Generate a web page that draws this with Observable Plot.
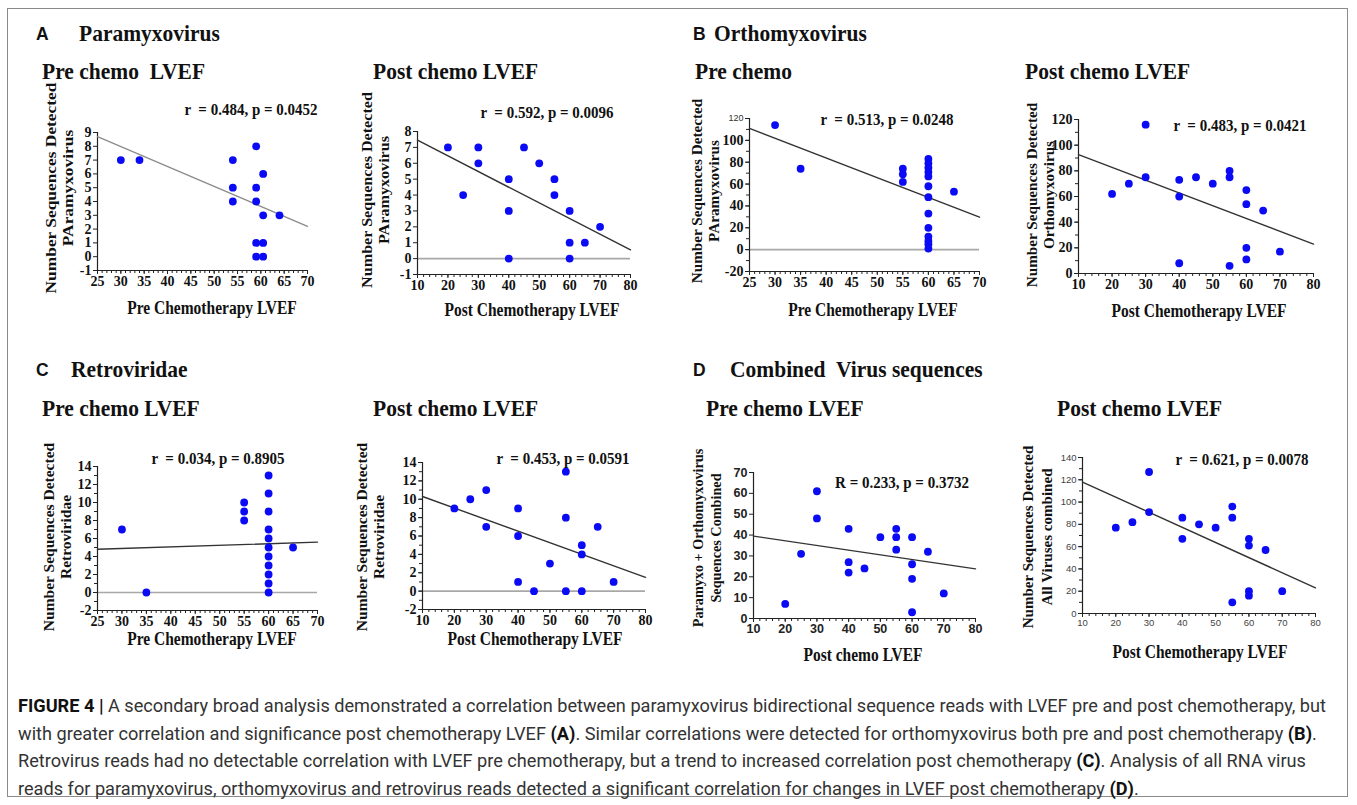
<!DOCTYPE html>
<html><head><meta charset="utf-8">
<script src="https://cdn.jsdelivr.net/npm/d3@7"></script>
<script src="https://cdn.jsdelivr.net/npm/@observablehq/plot@0.6"></script>
<style>
html,body{margin:0;padding:0;background:#fff}
body{width:1357px;height:805px;position:relative;overflow:hidden}
#box{position:absolute;left:7px;top:8px;width:1341px;height:789px;border:1px solid #8a8a8a;box-sizing:border-box}
.t{position:absolute;white-space:pre;color:#111;line-height:1}
.serif{font-family:"Liberation Serif","Times New Roman",serif;font-weight:bold}
.sans{font-family:"Liberation Sans",Arial,sans-serif;font-weight:bold}
.cap{position:absolute;left:18px;white-space:pre;font-family:Roboto,"Liberation Sans",sans-serif;font-size:16px;color:#333;transform-origin:0 50%}
.cap b{font-weight:bold;color:#111}
svg{position:absolute;overflow:visible}
</style></head><body>
<div id="box"></div>
<script>
// ---------- data ----------
// A: Paramyxovirus
const a1Lvef  = [30, 34, 54, 54, 54, 59, 59, 59, 59, 59, 60.5, 60.5, 60.5, 60.5, 64];
const a1Count = [7, 7, 7, 5, 4, 8, 5, 4, 1, 0, 6, 3, 1, 0, 3];
const a1Fit   = [8.7, 2.2];
const a2Lvef  = [20, 25, 30, 30, 40, 40, 40, 45, 50, 55, 55, 60, 60, 60, 65, 70];
const a2Count = [7, 4, 7, 6, 5, 3, 0, 7, 6, 5, 4, 3, 1, 0, 1, 2];
const a2Fit   = [7.45, 0.55];
// B: Orthomyxovirus
const b1Lvef  = [30, 35, 55, 55, 55, 60, 60, 60, 60, 60, 60, 60, 60, 60, 60, 60, 60, 60, 65];
const b1Count = [114, 74, 74, 69, 62, 83, 79, 75, 71, 67, 58, 48, 33, 20, 12, 8, 5, 1, 53];
const b1Fit   = [111, 29.7];
const b2Lvef  = [20, 25, 30, 30, 40, 40, 40, 45, 50, 55, 55, 55, 60, 60, 60, 60, 65, 70];
const b2Count = [62, 70, 116, 75, 73, 60, 8, 75, 70, 80, 75, 6, 65, 54, 20, 11, 49, 17];
const b2Fit   = [92.7, 22.9];
// C: Retroviridae
const c1Lvef  = [30, 35, 55, 55, 55, 60, 60, 60, 60, 60, 60, 60, 60, 60, 60, 60, 65];
const c1Count = [7, 0, 10, 9, 8, 13, 11, 9, 7, 6, 5, 4, 3, 2, 1, 0, 5];
const c1Fit   = [4.8, 5.6];
const c2Lvef  = [20, 25, 30, 30, 40, 40, 40, 45, 50, 55, 55, 55, 60, 60, 60, 65, 70];
const c2Count = [9, 10, 11, 7, 9, 6, 1, 0, 3, 13, 8, 0, 5, 4, 0, 7, 1];
const c2Fit   = [10.3, 1.5];
// D: Combined virus sequences
const d1Lvef  = [20, 25, 30, 30, 40, 40, 40, 45, 50, 55, 55, 55, 60, 60, 60, 60, 65, 70];
const d1Count = [7, 31, 61, 48, 43, 27, 22, 24, 39, 43, 39, 33, 39, 26, 19, 3, 32, 12];
const d1Fit   = [39.5, 23.8];
const d2Lvef  = [20, 25, 30, 30, 40, 40, 45, 50, 55, 55, 55, 60, 60, 60, 60, 65, 70];
const d2Count = [77, 82, 127, 91, 86, 67, 80, 77, 96, 86, 10, 67, 61, 20, 16, 57, 20];
const d2Fit   = [118, 23];

// tick labels
const xTicksPre  = [25, 30, 35, 40, 45, 50, 55, 60, 65, 70];
const xTicksPost = [10, 20, 30, 40, 50, 60, 70, 80];
const yTicksA1 = [-1, 0, 1, 2, 3, 4, 5, 6, 7, 8, 9];
const yTicksA2 = [-1, 0, 1, 2, 3, 4, 5, 6, 7, 8];
const yTicksB1 = [-20, 0, 20, 40, 60, 80, 100];
const yTicksB1Top = [120];
const yTicksB2 = [0, 20, 40, 60, 80, 100, 120];
const yTicksC  = [-2, 0, 2, 4, 6, 8, 10, 12, 14];
const yTicksD1 = [0, 10, 20, 30, 40, 50, 60, 70];
const yTicksD2 = [0, 20, 40, 60, 80, 100, 120, 140];

// ---------- helpers ----------
const body = document.body;
function txt(s, x, y, cls, opt = {}) {
  const d = document.createElement("div");
  d.className = "t " + cls;
  d.textContent = s;
  d.style.left = x + "px"; d.style.top = y + "px";
  d.style.fontSize = (opt.size || 15.5) + "px";
  const sy = opt.sy || 1.15;
  d.style.transform = (opt.center ? "translate(-50%,-50%)" : "translate(0,-50%)") + ` scale(1,${sy})`;
  if (opt.color) d.style.color = opt.color;
  body.appendChild(d);
  return d;
}
function ytitle(lines, cx, cy, opt = {}) {
  const d = document.createElement("div");
  d.className = "t serif";
  d.style.fontSize = (opt.size || 15.5) + "px";
  d.style.lineHeight = (opt.lh || 17) + "px";
  d.style.textAlign = "center";
  d.innerHTML = lines.join("<br>");
  d.style.left = cx + "px"; d.style.top = cy + "px";
  d.style.transform = `translate(-50%,-50%) rotate(-90deg) scale(${opt.sx || 1},1)`;
  body.appendChild(d);
}
function range(a, b, s) { const r = []; for (let v = a; v <= b + 1e-9; v += s) r.push(+v.toFixed(6)); return r; }

function panel(c) {
  const mL = 45, mR = 15, mT = 15, mB = 35;
  const w = c.x1 - c.x0 + mL + mR, h = c.yb - c.yt + mT + mB;
  const pts = c.xs.map((x, i) => ({x, y: c.ys[i]}));
  const fit = [{x: c.xd[0], y: c.fit[0]}, {x: c.xd[1], y: c.fit[1]}];
  const tf = c.tickFont || {fontFamily: "Liberation Serif", fontWeight: "bold", fontSize: 14, fill: "#111"};
  const marks = [];
  if (c.zero) marks.push(Plot.ruleY([0], {stroke: "#a8a8a8", strokeWidth: 1.6}));
  marks.push(Plot.ruleX([c.xd[0]], {stroke: "#222", strokeWidth: 1.2}));
  marks.push(Plot.ruleY([c.yd[0]], {stroke: "#222", strokeWidth: 1.2}));
  marks.push(Plot.axisX({ticks: c.xMinor, tickSize: 3, tickFormat: () => "", label: null, stroke: "#222"}));
  marks.push(Plot.axisX({ticks: c.xTicks, tickSize: 4, tickPadding: 2, tickFormat: d => String(d), label: null, stroke: "#222", ...tf}));
  if (c.yMinor) marks.push(Plot.axisY({ticks: c.yMinor, tickSize: 3, tickFormat: () => "", label: null, stroke: "#222"}));
  marks.push(Plot.axisY({ticks: c.yTicks, tickSize: 4, tickPadding: 2, tickFormat: d => String(d), label: null, stroke: "#222", ...tf}));
  if (c.yTop) marks.push(Plot.axisY({ticks: c.yTop, tickSize: 4, tickPadding: 2, label: null, stroke: "#222",
      fontFamily: "Liberation Sans", fontWeight: "normal", fontSize: 9, fill: "#333"}));
  marks.push(Plot.line(fit, {x: "x", y: "y", stroke: c.fitColor || "#333", strokeWidth: 1.4}));
  marks.push(Plot.dot(pts, {x: "x", y: "y", r: 3.9, fill: "#0a0af5", stroke: "none"}));
  const svg = Plot.plot({
    width: w, height: h, marginLeft: mL, marginRight: mR, marginTop: mT, marginBottom: mB,
    x: {domain: c.xd}, y: {domain: c.yd},
    style: {background: "transparent", overflow: "visible"},
    marks
  });
  svg.style.left = (c.x0 - mL) + "px";
  svg.style.top = (c.yt - mT) + "px";
  body.appendChild(svg);
  txt(c.ann, c.ann_x, c.ann_y, "serif", {center: true, size: 15});
  txt(c.xtitle, c.xt_x, c.xt_y, "serif", {center: true, size: 15.5});
  ytitle(c.ytitle, c.yt_x, c.yt_y, c.ytOpt || {});
}

const panels = [
  {xs: a1Lvef, ys: a1Count, fit: a1Fit, xd: [25, 70], yd: [-1, 9], xTicks: xTicksPre, xMinor: range(25, 70, 1), yTicks: yTicksA1,
   x0: 97, x1: 307, yt: 132, yb: 270, zero: false, fitColor: "#8c8c8c",
   ann: "r  = 0.484, p = 0.0452", ann_x: 251, ann_y: 110, xtitle: "Pre Chemotherapy LVEF", xt_x: 212, xt_y: 308,
   ytitle: ["Number Sequences Detected", "PAramyxovirus"], yt_x: 58.5, yt_y: 188, ytOpt: {sx: 1.12}},
  {xs: a2Lvef, ys: a2Count, fit: a2Fit, xd: [10, 80], yd: [-1, 8], xTicks: xTicksPost, xMinor: range(10, 80, 2), yTicks: yTicksA2,
   x0: 417, x1: 630, yt: 131, yb: 274, zero: true,
   ann: "r  = 0.592, p = 0.0096", ann_x: 547, ann_y: 113, xtitle: "Post Chemotherapy LVEF", xt_x: 532, xt_y: 310,
   ytitle: ["Number Sequences Detected", "PAramyxovirus"], yt_x: 375, yt_y: 190, ytOpt: {sx: 1.04}},
  {xs: b1Lvef, ys: b1Count, fit: b1Fit, xd: [25, 70], yd: [-20, 120], xTicks: xTicksPre, xMinor: range(25, 70, 1), yTicks: yTicksB1, yTop: yTicksB1Top,
   yMinor: range(-20, 120, 10), x0: 749, x1: 979, yt: 118, yb: 271, zero: true,
   ann: "r  = 0.513, p = 0.0248", ann_x: 887, ann_y: 120, xtitle: "Pre Chemotherapy LVEF", xt_x: 873, xt_y: 310,
   ytitle: ["Number Sequences Detected", "PAramyxovirus"], yt_x: 705, yt_y: 191, ytOpt: {sx: 0.98}},
  {xs: b2Lvef, ys: b2Count, fit: b2Fit, xd: [10, 80], yd: [0, 120], xTicks: xTicksPost, xMinor: range(10, 80, 2), yTicks: yTicksB2,
   yMinor: range(0, 120, 10), x0: 1078, x1: 1313, yt: 119, yb: 273, zero: false,
   ann: "r  = 0.483, p = 0.0421", ann_x: 1240, ann_y: 126, xtitle: "Post Chemotherapy LVEF", xt_x: 1199, xt_y: 311,
   ytitle: ["Number Sequences Detected", "Orthomyxovirus"], yt_x: 1040, yt_y: 195, ytOpt: {sx: 0.98}},
  {xs: c1Lvef, ys: c1Count, fit: c1Fit, xd: [25, 70], yd: [-2, 14], xTicks: xTicksPre, xMinor: range(25, 70, 1), yTicks: yTicksC,
   yMinor: range(-2, 14, 1), x0: 97, x1: 317, yt: 466, yb: 610, zero: true,
   ann: "r  = 0.034, p = 0.8905", ann_x: 218, ann_y: 459, xtitle: "Pre Chemotherapy LVEF", xt_x: 212, xt_y: 639,
   ytitle: ["Number Sequences Detected", "Retroviridae"], yt_x: 56.5, yt_y: 537, ytOpt: {sx: 1.0}},
  {xs: c2Lvef, ys: c2Count, fit: c2Fit, xd: [10, 80], yd: [-2, 14], xTicks: xTicksPost, xMinor: range(10, 80, 2), yTicks: yTicksC,
   yMinor: range(-2, 14, 1), x0: 422, x1: 645, yt: 462, yb: 609, zero: true,
   ann: "r  = 0.453, p = 0.0591", ann_x: 563, ann_y: 459, xtitle: "Post Chemotherapy LVEF", xt_x: 535, xt_y: 639,
   ytitle: ["Number Sequences Detected", "Retroviridae"], yt_x: 370, yt_y: 537, ytOpt: {sx: 1.0}},
  {xs: d1Lvef, ys: d1Count, fit: d1Fit, xd: [10, 80], yd: [0, 70], xTicks: xTicksPost, xMinor: range(10, 80, 2), yTicks: yTicksD1,
   x0: 753, x1: 975, yt: 472, yb: 618, zero: false,
   tickFont: {fontFamily: "Liberation Sans", fontWeight: "bold", fontSize: 12.5, fill: "#222"},
   ann: "R = 0.233, p = 0.3732", ann_x: 902, ann_y: 483, xtitle: "Post chemo LVEF", xt_x: 863, xt_y: 655,
   ytitle: ["Paramyxo + Orthomyxovirus", "Sequences Combined"], yt_x: 707, yt_y: 538, ytOpt: {size: 14.5, lh: 18, sx: 0.98}},
  {xs: d2Lvef, ys: d2Count, fit: d2Fit, xd: [10, 80], yd: [0, 140], xTicks: xTicksPost, xMinor: range(10, 80, 2), yTicks: yTicksD2,
   yMinor: range(0, 140, 10), x0: 1082, x1: 1315, yt: 457, yb: 613, zero: false,
   tickFont: {fontFamily: "Liberation Sans", fontWeight: "normal", fontSize: 9.5, fill: "#444"},
   ann: "r  = 0.621, p = 0.0078", ann_x: 1242, ann_y: 460, xtitle: "Post Chemotherapy LVEF", xt_x: 1200, xt_y: 652,
   ytitle: ["Number Sequences Detected", "All Viruses combined"], yt_x: 1037, yt_y: 537, ytOpt: {lh: 19, sx: 0.97}}
];
panels.forEach(panel);

// ---------- section headings ----------
const hs = 21.5, hsy = 1.06;
txt("A", 36, 34, "sans", {size: 17.5, sy: 1.05});
txt("Paramyxovirus", 79, 34, "serif", {size: hs, sy: hsy});
txt("B", 693, 34, "sans", {size: 17.5, sy: 1.05});
txt("Orthomyxovirus", 714, 34, "serif", {size: hs, sy: hsy});
txt("C", 36, 370, "sans", {size: 17.5, sy: 1.05});
txt("Retroviridae", 71, 370, "serif", {size: hs, sy: hsy});
txt("D", 693, 370, "sans", {size: 17.5, sy: 1.05});
txt("Combined  Virus sequences", 730, 370, "serif", {size: hs, sy: hsy});
txt("Pre chemo  LVEF", 42, 72, "serif", {size: hs, sy: hsy});
txt("Post chemo LVEF", 373, 72, "serif", {size: hs, sy: hsy});
txt("Pre chemo", 695, 72, "serif", {size: hs, sy: hsy});
txt("Post chemo LVEF", 1025, 72, "serif", {size: hs, sy: hsy});
txt("Pre chemo LVEF", 42, 409, "serif", {size: hs, sy: hsy});
txt("Post chemo LVEF", 373, 409, "serif", {size: hs, sy: hsy});
txt("Pre chemo LVEF", 706, 409, "serif", {size: hs, sy: hsy});
txt("Post chemo LVEF", 1057, 409, "serif", {size: hs, sy: hsy});

// ---------- caption ----------
const capLines = [
  "<b>FIGURE 4 |</b> A secondary broad analysis demonstrated a correlation between paramyxovirus bidirectional sequence reads with LVEF pre and post chemotherapy, but",
  "with greater correlation and significance post chemotherapy LVEF <b>(A)</b>. Similar correlations were detected for orthomyxovirus both pre and post chemotherapy <b>(B)</b>.",
  "Retrovirus reads had no detectable correlation with LVEF pre chemotherapy, but a trend to increased correlation post chemotherapy <b>(C)</b>. Analysis of all RNA virus",
  "reads for paramyxovirus, orthomyxovirus and retrovirus reads detected a significant correlation for changes in LVEF post chemotherapy <b>(D)</b>."
];
const capY = [706, 734, 761, 789];
const capEls = capLines.map((s, i) => {
  const d = document.createElement("div");
  d.className = "cap"; d.innerHTML = s;
  d.style.top = (capY[i] - 10) + "px";
  body.appendChild(d); return d;
});
const kCap = (1326 - 18) / capEls[0].getBoundingClientRect().width;
capEls.forEach(d => d.style.transform = `scale(${kCap},1.12)`);
</script>
</body></html>
